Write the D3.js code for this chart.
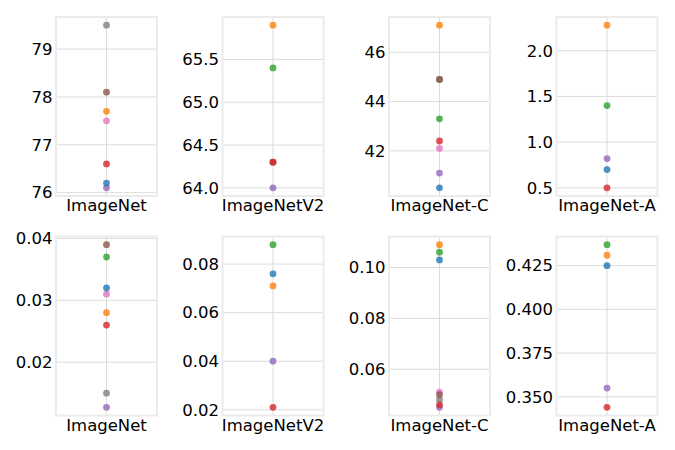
<!DOCTYPE html>
<html>
<head>
<meta charset="utf-8">
<script src="https://cdn.jsdelivr.net/npm/d3@7"></script>
<style>
body { margin: 0; background: #fff; }
text { font-family: "DejaVu Sans", sans-serif; fill: #000; }
</style>
</head>
<body>
<svg id="plot"></svg>
<script>
var width = 675;
var height = 450;
var svg = d3.select("#plot")
    .attr("width", width)
    .attr("height", height);

// tab10 order: blue, orange, green, red, purple, brown, pink, gray
var colors = ["#1f77b4", "#ff7f0e", "#2ca02c", "#d62728", "#9467bd", "#8c564b", "#e377c2", "#7f7f7f"];

var datasets = ["ImageNet", "ImageNetV2", "ImageNet-C", "ImageNet-A"];

// top row
var topImageNet   = [76.2, 77.7, null, 76.6, 76.1, 78.1, 77.5, 79.5];
var topImageNetV2 = [null, 65.9, 65.4, 64.3, 64.0, 64.3, null, null];
var topImageNetC  = [40.5, 47.1, 43.3, 42.4, 41.1, 44.9, 42.1, 44.9];
var topImageNetA  = [0.70, 2.28, 1.40, 0.50, 0.82, null, null, null];

// bottom row
var botImageNet   = [0.032, 0.028, 0.037, 0.026, 0.0127, 0.039, 0.031, 0.015];
var botImageNetV2 = [0.076, 0.071, 0.088, 0.021, 0.040, null, null, null];
var botImageNetC  = [0.103, 0.109, 0.106, 0.046, 0.045, 0.050, 0.051, 0.048];
var botImageNetA  = [0.425, 0.431, 0.437, 0.344, 0.355, null, null, null];

var topTicks = [[76, 77, 78, 79], [64.0, 64.5, 65.0, 65.5], [42, 44, 46], [0.5, 1.0, 1.5, 2.0]];
var topDecimals = [0, 1, 0, 1];
var botTicks = [[0.02, 0.03, 0.04], [0.02, 0.04, 0.06, 0.08], [0.06, 0.08, 0.10], [0.350, 0.375, 0.400, 0.425]];
var botDecimals = [2, 2, 2, 3];

var rows = [
    {values: [topImageNet, topImageNetV2, topImageNetC, topImageNetA], ticks: topTicks, decimals: topDecimals},
    {values: [botImageNet, botImageNetV2, botImageNetC, botImageNetA], ticks: botTicks, decimals: botDecimals}
];

var panelW = 101;
var panelH = 179;
var colLeft = [56, 222.5, 389, 556.5];
var rowTop = [17, 236.5];
var fontSize = "16.5px";

function domainWithMargin(vals) {
    var ext = d3.extent(vals.filter(function (v) { return v != null; }));
    var m = (ext[1] - ext[0]) * 0.05;
    return [ext[0] - m, ext[1] + m];
}

rows.forEach(function (row, r) {
    row.values.forEach(function (vals, c) {
        var g = svg.append("g")
            .attr("transform", "translate(" + colLeft[c] + "," + rowTop[r] + ")");

        var y = d3.scaleLinear()
            .domain(domainWithMargin(vals))
            .range([panelH, 0]);
        var x = d3.scaleBand()
            .domain([datasets[c]])
            .range([0, panelW]);
        var cx = x(datasets[c]) + x.bandwidth() / 2;

        // horizontal grid
        g.selectAll(".hgrid")
            .data(row.ticks[c])
            .enter()
            .append("line")
            .attr("x1", 0)
            .attr("x2", panelW)
            .attr("y1", function (d) { return y(d); })
            .attr("y2", function (d) { return y(d); })
            .attr("stroke", "#dcdcdc")
            .attr("stroke-width", 1);
        // vertical grid
        g.append("line")
            .attr("x1", cx).attr("x2", cx)
            .attr("y1", 0).attr("y2", panelH)
            .attr("stroke", "#dcdcdc")
            .attr("stroke-width", 1);

        // frame
        g.append("rect")
            .attr("width", panelW)
            .attr("height", panelH)
            .attr("fill", "none")
            .attr("stroke", "#ebebeb")
            .attr("stroke-width", 2);

        var yAxis = d3.axisLeft(y)
            .tickValues(row.ticks[c])
            .tickSize(0)
            .tickPadding(3.5)
            .tickFormat(d3.format("." + row.decimals[c] + "f"));
        var ya = g.append("g").call(yAxis);
        ya.select(".domain").remove();
        ya.selectAll("text").style("font-size", fontSize).style("font-family", "DejaVu Sans, sans-serif");

        var xAxis = d3.axisBottom(x).tickSize(0).tickPadding(3.5);
        var xa = g.append("g").attr("transform", "translate(0," + panelH + ")").call(xAxis);
        xa.select(".domain").remove();
        xa.selectAll("text").style("font-size", fontSize).style("font-family", "DejaVu Sans, sans-serif");

        // points, drawn last-hue first
        var pts = vals.map(function (v, i) { return {v: v, i: i}; })
            .filter(function (d) { return d.v != null; })
            .reverse();
        g.selectAll(".pt")
            .data(pts)
            .enter()
            .append("circle")
            .attr("cx", cx)
            .attr("cy", function (d) { return y(d.v); })
            .attr("r", 3.4)
            .attr("fill", function (d) { return colors[d.i]; })
            .attr("fill-opacity", 0.8);
    });
});
</script>
</body>
</html>
